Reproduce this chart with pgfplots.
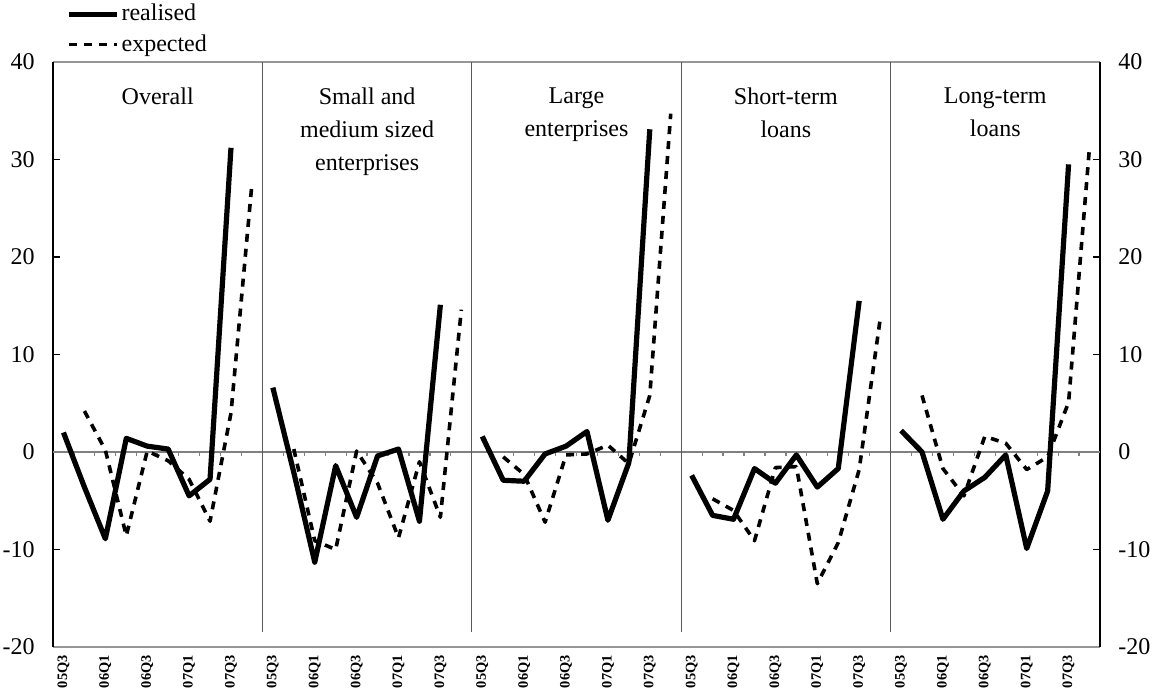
\documentclass[12pt,border=0pt]{standalone}
\usepackage{fontspec}
\setmainfont{Liberation Serif}
\usepackage{pgfplots}
\pgfplotsset{compat=1.18}

\definecolor{zeroline}{RGB}{128,128,128}
\definecolor{frame}{RGB}{150,150,150}
\definecolor{divider}{RGB}{90,90,90}

\pgfplotsset{
  panel/.style={
    scale only axis, width=523.5pt, height=292.5pt,
    at={(0,0)}, anchor=south west,
    xmin=0, xmax=50, ymin=-20, ymax=40,
    ytick={-20,-10,...,40},
    /pgf/number format/assume math mode=true,
  },
  realised/.style={black, line width=2.6pt, line join=round, no markers},
  expected/.style={black, line width=1.8pt, dash pattern=on 4pt off 3.5pt, line join=round, no markers},
}

\begin{document}
\begin{tikzpicture}
\path[use as bounding box] (-26.5pt,-21pt) rectangle (549.5pt,323.5pt);

\begin{axis}[panel,
  clip=false,
  separate axis lines,
  x axis line style={draw=frame, line width=0.6pt},
  y axis line style={draw=black, line width=0.6pt},
  ytick pos=both, yticklabel pos=left,
  tick align=inside, major tick length=3.5pt,
  ytick style={black, line width=0.6pt},
  yticklabel style={xshift=-5pt},
  xtick={0.5,2.5,...,48.5},
  xticklabels={05Q3,06Q1,06Q3,07Q1,07Q3,05Q3,06Q1,06Q3,07Q1,07Q3,05Q3,06Q1,06Q3,07Q1,07Q3,05Q3,06Q1,06Q3,07Q1,07Q3,05Q3,06Q1,06Q3,07Q1,07Q3},
  xtick style={draw=none},
  xticklabel style={rotate=90, anchor=east, font=\fontsize{7.2}{8}\selectfont\bfseries},
  legend style={at={(axis description cs:0,1)}, anchor=south west, xshift=6.5pt, yshift=2.5pt,
    draw=none, fill=none, inner sep=0pt, row sep=3pt,
    nodes={inner sep=1pt, anchor=west}},
  legend cell align=left,
  legend image code/.code={\draw[#1] (0pt,0pt) -- (24pt,0pt);},
]
% zero line, small ticks and panel dividers
\draw[zeroline, line width=1pt] (axis cs:0,0) -- (axis cs:50,0);
\pgfplotsinvokeforeach{1,...,49}{\draw[zeroline, line width=0.6pt] (axis cs:#1,0) -- ([yshift=-2.2pt]axis cs:#1,0);}
\pgfplotsinvokeforeach{10,20,30,40}{\draw[divider, line width=0.6pt] (axis cs:#1,40) -- (axis cs:#1,-18.5);}

% Overall
\addplot[realised] coordinates {(0.5,2.0)(1.5,-3.6)(2.5,-8.9)(3.5,1.4)(4.5,0.6)(5.5,0.3)(6.5,-4.5)(7.5,-2.8)(8.5,31.2)};
\addlegendentry{realised}
\addplot[expected] coordinates {(1.5,4.2)(2.5,0.2)(3.5,-8.6)(4.5,0.1)(5.5,-0.9)(6.5,-2.8)(7.5,-7.1)(8.5,4.0)(9.5,27.5)};
\addlegendentry{expected}
% Small and medium sized enterprises
\addplot[realised, forget plot] coordinates {(10.5,6.6)(11.5,-2.1)(12.5,-11.3)(13.5,-1.4)(14.5,-6.7)(15.5,-0.4)(16.5,0.3)(17.5,-7.1)(18.5,15.1)};
\addplot[expected, forget plot] coordinates {(11.5,0.3)(12.5,-9.1)(13.5,-10.0)(14.5,0.1)(15.5,-3.2)(16.5,-8.8)(17.5,-1.0)(18.5,-6.7)(19.5,14.6)};
% Large enterprises
\addplot[realised, forget plot] coordinates {(20.5,1.6)(21.5,-2.9)(22.5,-3.0)(23.5,-0.2)(24.5,0.6)(25.5,2.1)(26.5,-7.0)(27.5,-1.1)(28.5,33.1)};
\addplot[expected, forget plot] coordinates {(21.5,-0.5)(22.5,-2.3)(23.5,-7.2)(24.5,-0.3)(25.5,-0.2)(26.5,0.7)(27.5,-1.2)(28.5,5.8)(29.5,34.7)};
% Short-term loans
\addplot[realised, forget plot] coordinates {(30.5,-2.4)(31.5,-6.5)(32.5,-6.9)(33.5,-1.7)(34.5,-3.2)(35.5,-0.3)(36.5,-3.6)(37.5,-1.7)(38.5,15.5)};
\addplot[expected, forget plot] coordinates {(31.5,-4.8)(32.5,-6.0)(33.5,-9.1)(34.5,-1.6)(35.5,-1.5)(36.5,-13.5)(37.5,-9.3)(38.5,-1.8)(39.5,13.6)};
% Long-term loans
\addplot[realised, forget plot] coordinates {(40.5,2.2)(41.5,0.0)(42.5,-6.9)(43.5,-4.0)(44.5,-2.6)(45.5,-0.3)(46.5,-9.9)(47.5,-4.0)(48.5,29.5)};
\addplot[expected, forget plot] coordinates {(41.5,5.8)(42.5,-1.7)(43.5,-4.5)(44.5,1.6)(45.5,0.9)(46.5,-1.8)(47.5,-0.5)(48.5,5.1)(49.5,31.3)};

% panel titles
\begin{scope}[every node/.style={anchor=north, align=center, font=\fontsize{12}{16.5}\selectfont}]
\node at (axis cs:5,38.2) {Overall};
\node at (axis cs:15,38.2) {Small and\\medium sized\\enterprises};
\node at (axis cs:25,38.2) {Large\\enterprises};
\node at (axis cs:35,38.2) {Short-term\\loans};
\node at (axis cs:45,38.2) {Long-term\\loans};
\end{scope}
\end{axis}

% right-hand tick labels
\begin{axis}[panel,
  hide x axis,
  axis y line*=right,
  y axis line style={draw=none},
  major tick length=0pt,
  yticklabel style={xshift=5pt},
]
\end{axis}
\end{tikzpicture}
\end{document}
